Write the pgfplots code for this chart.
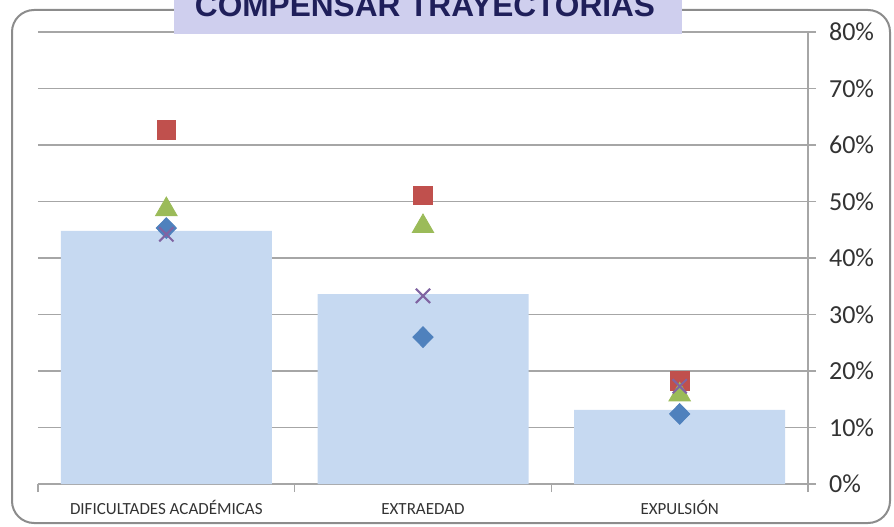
\documentclass[border=0pt]{standalone}
\usepackage{fontspec}
\setmainfont{Carlito}
\newfontfamily\arialfont{Liberation Sans}
\usepackage{pgfplots}
\pgfplotsset{compat=1.18}
\definecolor{barblue}{HTML}{C6D9F1}
\definecolor{sqred}{HTML}{C0504D}
\definecolor{trigreen}{HTML}{9BBB59}
\definecolor{diablue}{HTML}{4F81BD}
\definecolor{xpurple}{HTML}{8064A2}
\definecolor{gridgray}{HTML}{A6A6A6}
\definecolor{framegray}{HTML}{8C8C8C}
\definecolor{labelgray}{HTML}{333333}
\definecolor{titlebg}{HTML}{CFCFEE}
\definecolor{titlenavy}{HTML}{1F1F5A}
\begin{document}
\begin{tikzpicture}[x=1pt,y=1pt]
\useasboundingbox (0,0) rectangle (447,263);
\clip (0,0) rectangle (447,263);
\draw[framegray, line width=1pt, rounded corners=11pt] (6,1.5) rectangle (445,258);
\begin{axis}[
  at={(19pt,21pt)}, anchor=south west,
  width=385pt, height=226pt, scale only axis,
  xmin=-0.5, xmax=2.5, ymin=0, ymax=80,
  axis x line*=bottom, axis y line*=right,
  axis line style={draw=gridgray, line width=0.6pt, -},
  ymajorgrids, grid style={draw=gridgray, line width=0.6pt},
  ytick={0,10,...,80},
  yticklabel={\pgfmathprintnumber{\tick}\%},
  /pgf/number format/assume math mode=true,
  tick align=outside,
  major tick length=4pt, minor tick length=4pt,
  tick style={draw=gridgray, line width=0.6pt},
  xtick={0,1,2},
  xticklabels={DIFICULTADES ACADÉMICAS, EXTRAEDAD, EXPULSIÓN},
  x tick style={draw=none},
  minor xtick={-0.5,0.5,1.5,2.5},
  minor x tick style={draw=gridgray, line width=0.6pt},
  yticklabel style={font=\fontsize{13}{13}\selectfont, text=labelgray, xshift=3pt},
  xticklabel style={font=\fontsize{8.5}{9}\selectfont, text=labelgray, anchor=base, yshift=-11pt},
  clip=false,
]
\addplot[ybar, bar width=105.5pt, fill=barblue, draw=none] coordinates {(0,44.8) (1,33.6) (2,13.1)};
\addplot[only marks, mark=diamond*, mark size=5.2pt, mark options={xscale=1.3, fill=diablue, draw=diablue}] coordinates {(0,45.3) (1,26.0) (2,12.4)};
\addplot[only marks, mark=square*, mark size=4.7pt, mark options={fill=sqred, draw=sqred}] coordinates {(0,62.7) (1,51.1) (2,18.2)};
\addplot[only marks, mark=triangle*, mark size=6.2pt, mark options={fill=trigreen, draw=trigreen}] coordinates {(0,48.6) (1,45.6) (2,15.8)};
\addplot[only marks, mark=x, mark size=5pt, mark options={draw=xpurple, line width=1pt}] coordinates {(0,44.2) (1,33.3) (2,17.3)};
\end{axis}
\fill[titlebg] (87,246) rectangle (341,270);
\node[anchor=base, inner sep=0pt, font=\arialfont\bfseries\fontsize{15.8}{16}\selectfont, text=titlenavy] at (212.5,254.5) {COMPENSAR TRAYECTORIAS};
\end{tikzpicture}
\end{document}
